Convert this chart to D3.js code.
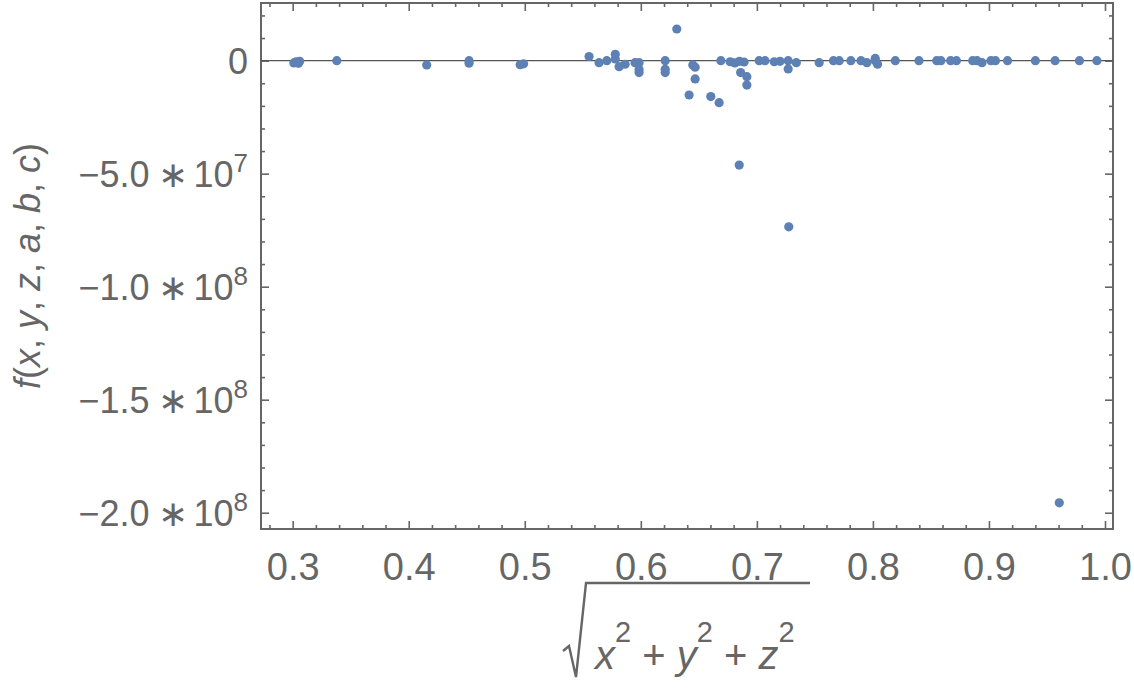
<!DOCTYPE html>
<html><head><meta charset="utf-8">
<script src="https://cdn.jsdelivr.net/npm/d3@7/dist/d3.min.js"></script>
<style>body{margin:0;background:#fff}svg{display:block}</style>
</head><body>
<svg id="c" width="1134" height="690"></svg>
<script>
// ---- data ----
const radius = [0.301,0.303,0.305,0.306,0.338,0.4155,0.452,0.452,0.496,0.499,
  0.5554,0.564,0.5707,0.578,0.578,0.5813,0.5865,0.595,0.5985,0.5985,0.5985,
  0.621,0.621,0.621,0.631,0.6416,0.6448,0.6468,0.6468,0.6603,0.6675,0.669,
  0.677,0.681,0.6848,0.685,0.689,0.686,0.6914,0.6914,0.702,0.707,0.715,0.72,
  0.727,0.727,0.7275,0.734,0.7537,0.766,0.771,0.781,0.7897,0.7948,0.802,0.802,
  0.804,0.8193,0.8397,0.855,0.8586,0.867,0.872,0.886,0.8897,0.894,0.9017,0.9056,
  0.916,0.94,0.957,0.978,0.993,0.9606];
const fvals = [-1.0e6,-0.5e6,-1.2e6,-0.3e6,0,-1.9e6,0,-1.1e6,-1.8e6,-1.4e6,
  1.8e6,-0.9e6,0,2.8e6,0.75e6,-2.65e6,-1.6e6,-0.9e6,-0.9e6,-3.9e6,-5.3e6,
  0,-3.8e6,-5.3e6,1.4e7,-1.52e7,-1.9e6,-2.9e6,-8.1e6,-1.59e7,-1.86e7,0,
  -0.5e6,-1.0e6,-4.62e7,-0.3e6,-0.6e6,-5.3e6,-7.1e6,-1.08e7,0,0,-0.5e6,-0.3e6,
  0,-3.7e6,-7.35e7,-0.9e6,-0.9e6,0,0,0,0,-0.9e6,1.0e6,0,
  -1.6e6,0,0,0,0,0,0,0,0,-0.9e6,0,0,
  0,0,0,0,0,-1.956e8];
const xTickValues = [0.3,0.4,0.5,0.6,0.7,0.8,0.9,1.0];
const xTickLabels = ["0.3","0.4","0.5","0.6","0.7","0.8","0.9","1.0"];
const yTickValues = [0,-5e7,-1e8,-1.5e8,-2e8];
const yTickMantissa = ["0","\u22125.0","\u22121.0","\u22121.5","\u22122.0"];
const yTickExponent = ["","7","8","8","8"];

// ---- layout ----
const L=261,R=1113,T=3,B=529;
const grey="#666666", dot="#5E81B5";
const svg=d3.select("#c");
const x=d3.scaleLinear().domain([0.2727,1.0069]).range([L,R]);
const y=d3.scaleLinear().domain([2.55e7,-2.072e8]).range([T,B]);
const font="'Liberation Sans', Arial, sans-serif";

const xMinor=d3.range(0.28,1.0069,0.02).filter(v=>Math.abs(Math.round(v*10)-v*10)>1e-6);
const yMinor=d3.range(2e7,-2.072e8,-1e7).filter(v=>Math.abs(v%5e7)>1);

function styleAxis(g){g.select(".domain").remove();g.selectAll("line").attr("stroke",grey).attr("stroke-width",1.6);}

// bottom
svg.append("g").attr("transform",`translate(0,${B})`)
  .call(d3.axisBottom(x).tickValues(xTickValues).tickSizeInner(-8).tickSizeOuter(0)
     .tickFormat((d,i)=>xTickLabels[i]).tickPadding(24))
  .call(styleAxis)
  .call(g=>g.selectAll("text").attr("fill",grey).attr("font-size",38).attr("font-family",font));
svg.append("g").attr("transform",`translate(0,${B})`)
  .call(d3.axisBottom(x).tickValues(xMinor).tickSizeInner(-4).tickSizeOuter(0).tickFormat(""))
  .call(styleAxis);
// top
svg.append("g").attr("transform",`translate(0,${T})`)
  .call(d3.axisTop(x).tickValues(xTickValues).tickSizeInner(-8).tickSizeOuter(0).tickFormat(""))
  .call(styleAxis);
svg.append("g").attr("transform",`translate(0,${T})`)
  .call(d3.axisTop(x).tickValues(xMinor).tickSizeInner(-4).tickSizeOuter(0).tickFormat(""))
  .call(styleAxis);
// left
svg.append("g").attr("transform",`translate(${L},0)`)
  .call(d3.axisLeft(y).tickValues(yTickValues).tickSizeInner(-8).tickSizeOuter(0).tickFormat(""))
  .call(styleAxis);
svg.append("g").attr("transform",`translate(${L},0)`)
  .call(d3.axisLeft(y).tickValues(yMinor).tickSizeInner(-4).tickSizeOuter(0).tickFormat(""))
  .call(styleAxis);
// right
svg.append("g").attr("transform",`translate(${R},0)`)
  .call(d3.axisRight(y).tickValues(yTickValues).tickSizeInner(-8).tickSizeOuter(0).tickFormat(""))
  .call(styleAxis);
svg.append("g").attr("transform",`translate(${R},0)`)
  .call(d3.axisRight(y).tickValues(yMinor).tickSizeInner(-4).tickSizeOuter(0).tickFormat(""))
  .call(styleAxis);

// y tick labels
yTickValues.forEach((v,i)=>{
  const t=svg.append("text").attr("x",248).attr("y",y(v)+13).attr("text-anchor","end")
    .attr("fill",grey).attr("font-size",36).attr("font-family",font);
  t.append("tspan").text(yTickMantissa[i]);
  if(yTickExponent[i]){
    t.append("tspan").attr("dx",9).text("\u2217");
    t.append("tspan").attr("dx",5).text("10");
    t.append("tspan").attr("dy",-15).attr("font-size",26).text(yTickExponent[i]);
  }
});

// frame
svg.append("rect").attr("x",L).attr("y",T).attr("width",R-L).attr("height",B-T)
  .attr("fill","none").attr("stroke",grey).attr("stroke-width",2);
// zero line
svg.append("line").attr("x1",L).attr("x2",R).attr("y1",y(0)).attr("y2",y(0))
  .attr("stroke","#555").attr("stroke-width",1.2);

// points
svg.append("g").selectAll("circle").data(radius.map((r,i)=>[r,fvals[i]])).join("circle")
  .attr("cx",d=>x(d[0])).attr("cy",d=>y(d[1])).attr("r",4.6).attr("fill",dot);

// y axis label
const yl=svg.append("text").attr("transform","translate(40,266) rotate(-90)")
  .attr("text-anchor","middle").attr("fill",grey).attr("font-size",36).attr("font-family",font);
[["f",1],["(",0],["x",1],[", ",0],["y",1],[", ",0],["z",1],[", ",0],["a",1],[", ",0],["b",1],[", ",0],["c",1],[")",0]]
  .forEach(([s,it])=>yl.append("tspan").attr("font-style",it?"italic":"normal").text(s));

// x axis label (radical)
svg.append("path").attr("d","M563,651 L569,646 L576,677 L586,583 L810,583")
  .attr("fill","none").attr("stroke",grey).attr("stroke-width",2.4).attr("stroke-linejoin","miter");
const xl=svg.append("text").attr("x",595).attr("y",669).attr("fill",grey)
  .attr("font-size",40).attr("font-family",font);
[["x",1,0],["2",0,1],[" + ",0,2],["y",1,0],["2",0,1],[" + ",0,2],["z",1,0],["2",0,1]].forEach(([s,it,sup])=>{
  const ts=xl.append("tspan").attr("font-style",it?"italic":"normal").text(s);
  if(sup===1) ts.attr("font-size",29).attr("dy",-27);
  if(sup===2) ts.attr("dy",27);
});
</script>
</body></html>
